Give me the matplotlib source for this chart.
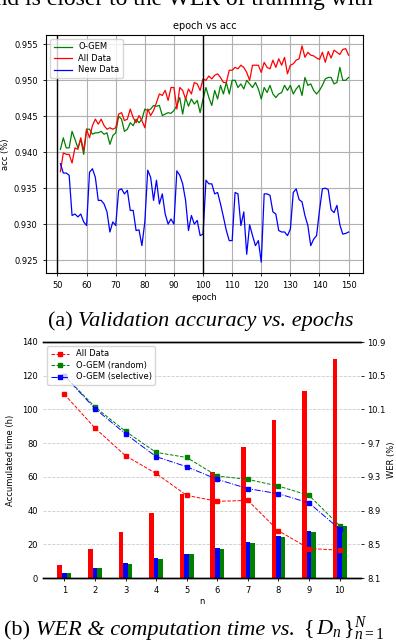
import matplotlib
matplotlib.use("Agg")
import matplotlib.pyplot as plt
import numpy as np

plt.rcParams['mathtext.fontset'] = 'custom'
plt.rcParams['mathtext.rm'] = 'Liberation Serif'
plt.rcParams['mathtext.it'] = 'Liberation Serif:italic'
plt.rcParams['mathtext.bf'] = 'Liberation Serif:bold'

# ---------------- data: epoch vs acc ----------------
epochs = list(range(51, 151))
ogem = [0.9404, 0.9420, 0.9406, 0.9406, 0.9429, 0.9418, 0.9406, 0.9418, 0.9397, 0.9432,
        0.9432, 0.9425, 0.9427, 0.9427, 0.9429, 0.9425, 0.9427, 0.9411, 0.9423, 0.9427,
        0.9450, 0.9446, 0.9429, 0.9432, 0.9441, 0.9437, 0.9446, 0.9441, 0.9446, 0.9460,
        0.9458, 0.9460, 0.9465, 0.9464, 0.9465, 0.9451, 0.9453, 0.9455, 0.9454, 0.9458,
        0.9465, 0.9476, 0.9453, 0.9476, 0.9464, 0.9474, 0.9467, 0.9472, 0.9455, 0.9474,
        0.9490, 0.9476, 0.9465, 0.9486, 0.9474, 0.9493, 0.9481, 0.9497, 0.9481, 0.9500,
        0.9500, 0.9490, 0.9495, 0.9488, 0.9500, 0.9495, 0.9490, 0.9497, 0.9488, 0.9474,
        0.9490, 0.9483, 0.9493, 0.9481, 0.9476, 0.9481, 0.9483, 0.9493, 0.9486, 0.9493,
        0.9481, 0.9488, 0.9493, 0.9479, 0.9504, 0.9493, 0.9495, 0.9486, 0.9481, 0.9486,
        0.9493, 0.9502, 0.9504, 0.9504, 0.9495, 0.9497, 0.9518, 0.9500, 0.9500, 0.9504]
all_data = [0.9373, 0.9399, 0.9397, 0.9397, 0.9385, 0.9406, 0.9404, 0.9420, 0.9402, 0.9432,
            0.9420, 0.9437, 0.9446, 0.9439, 0.9446, 0.9437, 0.9432, 0.9434, 0.9432, 0.9434,
            0.9453, 0.9455, 0.9444, 0.9446, 0.9460, 0.9448, 0.9441, 0.9451, 0.9444, 0.9434,
            0.9460, 0.9451, 0.9458, 0.9469, 0.9481, 0.9479, 0.9486, 0.9472, 0.9490, 0.9490,
            0.9460, 0.9490, 0.9486, 0.9474, 0.9488, 0.9481, 0.9497, 0.9495, 0.9486, 0.9502,
            0.9500, 0.9506, 0.9502, 0.9507, 0.9509, 0.9504, 0.9497, 0.9497, 0.9514, 0.9514,
            0.9518, 0.9516, 0.9521, 0.9518, 0.9511, 0.9500, 0.9521, 0.9521, 0.9521, 0.9511,
            0.9525, 0.9518, 0.9516, 0.9528, 0.9518, 0.9530, 0.9521, 0.9532, 0.9509, 0.9521,
            0.9523, 0.9528, 0.9530, 0.9548, 0.9532, 0.9539, 0.9535, 0.9534, 0.9531, 0.9529,
            0.9539, 0.9525, 0.9540, 0.9531, 0.9542, 0.9539, 0.9536, 0.9543, 0.9544, 0.9535]
new_data = [0.9384, 0.9371, 0.9371, 0.9368, 0.9312, 0.9314, 0.9310, 0.9314, 0.9303, 0.9298,
            0.9372, 0.9377, 0.9365, 0.9333, 0.9333, 0.9328, 0.9317, 0.9289, 0.9303, 0.9298,
            0.9347, 0.9349, 0.9342, 0.9347, 0.9319, 0.9319, 0.9291, 0.9292, 0.9270, 0.9303,
            0.9375, 0.9365, 0.9333, 0.9361, 0.9328, 0.9342, 0.9314, 0.9300, 0.9307, 0.9300,
            0.9374, 0.9368, 0.9356, 0.9333, 0.9291, 0.9312, 0.9300, 0.9305, 0.9284, 0.9286,
            0.9361, 0.9356, 0.9356, 0.9342, 0.9344, 0.9328, 0.9310, 0.9291, 0.9277, 0.9277,
            0.9344, 0.9342, 0.9298, 0.9317, 0.9258, 0.9299, 0.9284, 0.9270, 0.9277, 0.9247,
            0.9342, 0.9342, 0.9340, 0.9317, 0.9314, 0.9291, 0.9289, 0.9289, 0.9284, 0.9293,
            0.9344, 0.9349, 0.9334, 0.9331, 0.9312, 0.9298, 0.9270, 0.9279, 0.9284, 0.9319,
            0.9349, 0.9350, 0.9348, 0.9320, 0.9316, 0.9326, 0.9299, 0.9286, 0.9287, 0.9289]
vlines_at = [50, 100]
top_xticks = [50, 60, 70, 80, 90, 100, 110, 120, 130, 140, 150]
top_yticks = [0.925, 0.930, 0.935, 0.940, 0.945, 0.950, 0.955]

# ---------------- data: WER & computation time ----------------
n_vals = [1, 2, 3, 4, 5, 6, 7, 8, 9, 10]
time_all = [7.5, 17, 27, 38.5, 50, 63, 78, 94, 111, 130]
time_sel = [3, 6, 9, 12, 14.2, 18, 21.5, 25, 28, 31]
time_rand = [3, 6, 8.5, 11.5, 14.2, 17.5, 21, 24.5, 27.5, 31]
wer_all = [10.28, 9.88, 9.55, 9.34, 9.08, 9.01, 9.02, 8.66, 8.45, 8.43]
wer_rand = [10.50, 10.13, 9.84, 9.59, 9.53, 9.31, 9.27, 9.19, 9.08, 8.72]
wer_sel = [10.50, 10.11, 9.81, 9.54, 9.42, 9.27, 9.16, 9.10, 8.99, 8.68]
left_ticks = [0, 20, 40, 60, 80, 100, 120, 140]
right_ticks = [8.1, 8.5, 8.9, 9.3, 9.7, 10.1, 10.5, 10.9]

W, H = 396, 644
fig = plt.figure(figsize=(W / 100, H / 100), dpi=100)

def fx(px):
    return px / W

def fy(py):
    return 1 - py / H

# ---------------- top chart ----------------
ax = fig.add_axes([fx(46), fy(273), fx(363) - fx(46), fy(35) - fy(273)])
ax.plot(epochs, ogem, color='green', lw=0.9, label='O-GEM')
ax.plot(epochs, all_data, color='red', lw=0.9, label='All Data')
ax.plot(epochs, new_data, color='blue', lw=0.9, label='New Data')
xl = ax.get_xlim()
for v in vlines_at:
    ax.axvline(v, color='black', lw=1.0)
ax.set_xlim(xl)
ax.set_xticks(top_xticks)
ax.set_yticks(top_yticks)
ax.set_yticklabels([f"{t:.3f}" for t in top_yticks])
ax.grid(True, color='#b0b0b0', lw=0.8)
ax.tick_params(labelsize=6, length=2.5, width=0.6)
for s in ax.spines.values():
    s.set_linewidth(0.8)
ax.set_title('epoch vs acc', fontsize=7, pad=4)
ax.set_xlabel('epoch', fontsize=6, labelpad=2)
ax.set_ylabel('acc (%)', fontsize=6, labelpad=3)
ax.legend(loc='upper left', fontsize=6, handlelength=2.2, borderpad=0.4, labelspacing=0.3)

# ---------------- bottom chart ----------------
bx = fig.add_axes([fx(43), fy(578), fx(361) - fx(43), fy(342) - fy(578)])
w = 0.15
x = np.array(n_vals)
bx.bar(x - w, time_all, width=w, color='red', zorder=2)
bx.bar(x, time_sel, width=w, color='blue', zorder=2)
bx.bar(x + w, time_rand, width=w, color='green', zorder=2)
bx.set_ylim(0, 140)
bx.set_yticks(left_ticks)
bx.set_xticks(n_vals)
bx.yaxis.grid(True, linestyle='--', color='#cccccc', lw=0.6, zorder=0)
bx.set_axisbelow(True)
bx.tick_params(labelsize=6, length=2.5, width=0.6)
bx.set_xlabel('n', fontsize=6, labelpad=1)
bx.set_ylabel('Accumulated time (h)', fontsize=6, labelpad=5)

tx = bx.twinx()
tx.plot(x, wer_all, color='red', ls='--', lw=0.7, marker='s', ms=3.5, label='All Data')
tx.plot(x, wer_rand, color='green', ls='--', lw=0.7, marker='s', ms=3.5, label='O-GEM (random)')
tx.plot(x, wer_sel, color='blue', ls='-.', lw=0.7, marker='s', ms=3.5, label='O-GEM (selective)')
tx.set_ylim(8.1, 10.9)
tx.set_yticks(right_ticks)
tx.set_yticklabels([f"{t:.1f}" for t in right_ticks])
tx.tick_params(labelsize=6, length=2.5, width=0.6, pad=2)
tx.set_ylabel('WER (%)', fontsize=6, labelpad=1)
for a in (bx, tx):
    a.spines['left'].set_visible(False)
    a.spines['right'].set_visible(False)
    a.spines['top'].set_linewidth(1.0)
    a.spines['bottom'].set_linewidth(1.0)
bx.tick_params(axis='y', length=0)
tx.legend(loc='upper left', fontsize=6, handlelength=2.2, borderpad=0.4, labelspacing=0.3)

# ---------------- captions / surrounding paper text ----------------
renderer = fig.canvas.get_renderer()
CAP = 16
SPACE = CAP * 0.25 / 72 * 100 / W


def text_seq(x0, y0, pieces, gaps, center=False):
    items = []
    x = x0
    for (s, style), g in zip(pieces, gaps):
        t = fig.text(x, y0, s, fontsize=CAP, family='Liberation Serif', style=style,
                     ha='left', va='baseline')
        bb = t.get_window_extent(renderer)
        items.append(t)
        x += bb.width / W + g * SPACE
    total = x - x0
    if center:
        shift = total / 2
        for t in items:
            px, py = t.get_position()
            t.set_position((px - shift, py))


fig.text(fx(-15), fy(5), 'and is closer to the WER of training with', fontsize=17,
         family='Liberation Serif', ha='left', va='baseline')
text_seq(fx(201), fy(326), [('(a)', 'normal'), ('Validation accuracy vs. epochs', 'italic')],
         [1, 0], center=True)
text_seq(fx(4), fy(635), [('(b)', 'normal'), ('WER & computation time vs.', 'italic'),
                          (r'$\{\,D_n\,\}_{n=1}^{N}$', 'normal')], [1, 1.6, 0])

fig.savefig('out.png', dpi=100)
